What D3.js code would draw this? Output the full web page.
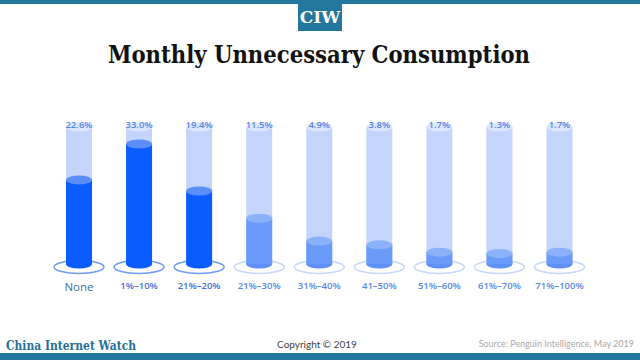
<!DOCTYPE html>
<html><head><meta charset="utf-8">
<script src="https://cdn.jsdelivr.net/npm/d3@7"></script>
<style>body{margin:0;background:#fff}svg{display:block}</style>
</head><body>
<script>
const categories = ["None","1%–10%","21%–20%","21%–30%","31%–40%","41–50%","51%–60%","61%–70%","71%–100%"];
const values = [22.6,33.0,19.4,11.5,4.9,3.8,1.7,1.3,1.7];
const valueLabels = ["22.6%","33.0%","19.4%","11.5%","4.9%","3.8%","1.7%","1.3%","1.7%"];
const highlighted = [true,true,true,false,false,false,false,false,false];

const W=640,H=360;
const svg=d3.select("body").append("svg").attr("width",W).attr("height",H);
const teal="#24779c";
svg.append("rect").attr("x",0).attr("y",0).attr("width",W).attr("height",4).attr("fill",teal);
svg.append("rect").attr("x",298).attr("y",0).attr("width",44).attr("height",31).attr("fill",teal);
svg.append("text").attr("x",320).attr("y",23).attr("text-anchor","middle").attr("fill","#fff")
  .attr("font-family","DejaVu Serif").attr("font-weight","bold").attr("font-size",17).text("CIW");
svg.append("text").attr("x",319).attr("y",63).attr("text-anchor","middle").attr("fill","#111")
  .attr("font-family","DejaVu Serif").attr("font-weight","bold").attr("font-size",25)
  .attr("textLength",422).attr("lengthAdjust","spacingAndGlyphs")
  .text("Monthly Unnecessary Consumption");

const x=d3.scalePoint().domain(categories).range([79,559.5]);
const base=264, tubeTop=127, bw=26, ry=4.5;
const y=d3.scaleLinear().domain([0,33]).range([base-6,144]);

const g=svg.selectAll("g.bar").data(categories.map((c,i)=>({c,v:values[i],lab:valueLabels[i],hi:highlighted[i]})))
  .enter().append("g").attr("class","bar");

g.append("ellipse").attr("cx",d=>x(d.c)).attr("cy",267).attr("rx",25).attr("ry",6.5)
  .attr("fill","none").attr("stroke",d=>d.hi?"#6f9bf0":"#c7d8fa").attr("stroke-width",1.5);
g.append("rect").attr("x",d=>x(d.c)-bw/2).attr("y",tubeTop).attr("width",bw).attr("height",base-tubeTop)
  .attr("fill","#c4d5fc");
g.append("ellipse").attr("cx",d=>x(d.c)).attr("cy",tubeTop).attr("rx",bw/2).attr("ry",ry).attr("fill","#dbe6fd");
g.append("ellipse").attr("cx",d=>x(d.c)).attr("cy",base).attr("rx",bw/2).attr("ry",ry)
  .attr("fill",d=>d.hi?"#0a5cff":"#5f90f8");
g.append("rect").attr("x",d=>x(d.c)-bw/2).attr("y",d=>y(d.v)).attr("width",bw).attr("height",d=>base-y(d.v))
  .attr("fill",d=>d.hi?"#0a5cff":"#6a9bfa");
g.append("ellipse").attr("cx",d=>x(d.c)).attr("cy",d=>y(d.v)).attr("rx",bw/2).attr("ry",ry)
  .attr("fill",d=>d.hi?"#5b8ef8":"#8cb1fb");
g.append("text").attr("x",d=>x(d.c)).attr("y",128).attr("text-anchor","middle")
  .attr("font-family","Open Sans").attr("font-weight",600).attr("font-size",9.5).attr("fill","#5a86e6").text(d=>d.lab);
g.append("text").attr("x",d=>x(d.c)).attr("y",d=>d.c==="None"?291:289).attr("text-anchor","middle")
  .attr("font-family","Open Sans").attr("font-weight",d=>d.c==="None"?400:600).attr("font-size",d=>d.c==="None"?11.5:9.5)
  .attr("fill",d=>d.c==="None"?"#3f6e9e":(d.hi?"#3f6fd0":"#5a86e6")).text(d=>d.c);

svg.append("rect").attr("x",0).attr("y",353).attr("width",W).attr("height",7).attr("fill",teal);
svg.append("text").attr("x",6).attr("y",350).attr("font-family","DejaVu Serif").attr("font-weight","bold")
  .attr("font-size",13).attr("fill","#24709a").attr("textLength",130).attr("lengthAdjust","spacingAndGlyphs").text("China Internet Watch");
svg.append("text").attr("x",317).attr("y",348).attr("text-anchor","middle").attr("font-family","Lato")
  .attr("font-size",10).attr("fill","#444").text("Copyright © 2019");
svg.append("text").attr("x",634).attr("y",347).attr("text-anchor","end").attr("font-family","Lato")
  .attr("font-size",9).attr("fill","#aaa").text("Source: Penguin Intelligence, May 2019");
</script>
</body></html>
